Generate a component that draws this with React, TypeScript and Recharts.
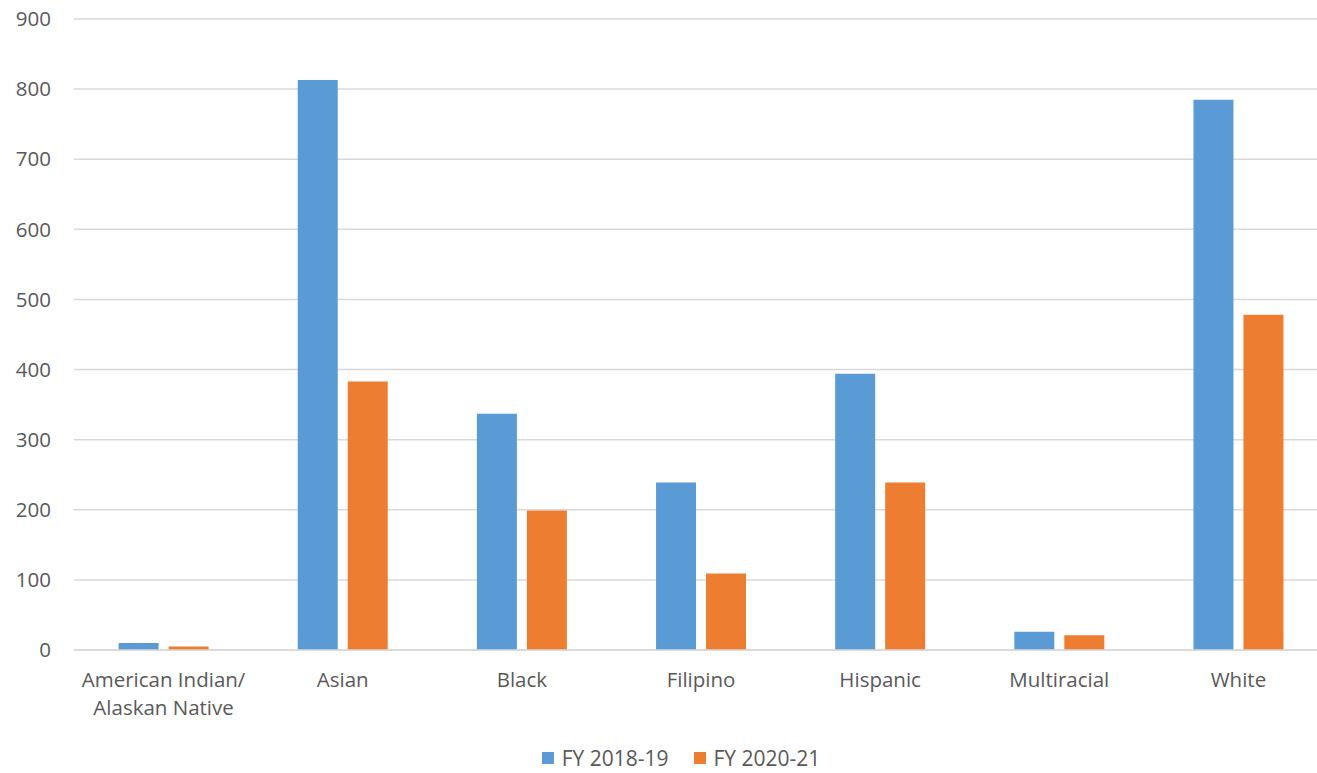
import React from 'react';
import { BarChart, Bar, XAxis, YAxis, CartesianGrid, Legend } from 'recharts';

const categories = ['American Indian/\nAlaskan Native', 'Asian', 'Black', 'Filipino', 'Hispanic', 'Multiracial', 'White'];
const fy1819 = [10, 813, 337, 239, 394, 26, 785];
const fy2021 = [5, 383, 199, 109, 239, 21, 478];
const yTicks = [0, 100, 200, 300, 400, 500, 600, 700, 800, 900];

const chartData = categories.map((name, i) => ({ name, a: fy1819[i], b: fy2021[i] }));

const FONT = 'Open Sans, Lato, sans-serif';
const TXT = '#595959';

const CatTick = (props: any) => {
  const { x, y, payload } = props;
  const lines = String(payload.value).split('\n');
  return (
    <text x={x} y={y + 29} textAnchor="middle" fill={TXT} fontSize={20.5} fontFamily={FONT}>
      {lines.map((l, i) => (
        <tspan key={i} x={x} dy={i === 0 ? 0 : 28}>{l}</tspan>
      ))}
    </text>
  );
};

const LegendBox = () => (
  <div style={{ display: 'flex', justifyContent: 'center', alignItems: 'center', fontFamily: FONT, fontSize: 21, lineHeight: '24px', height: 24, color: TXT }}>
    <span style={{ width: 12, height: 12, background: '#5B9BD5', display: 'inline-block', marginRight: 8 }} />
    <span style={{ marginRight: 25 }}>FY 2018-19</span>
    <span style={{ width: 12, height: 12, background: '#ED7D31', display: 'inline-block', marginRight: 8 }} />
    <span>FY 2020-21</span>
  </div>
);

export default function App() {
  return (
    <div style={{ position: 'absolute', left: 0, top: 0, width: 1317, height: 773, background: '#fff', overflow: 'hidden' }}>
      <BarChart width={1328} height={773} data={chartData} barGap={10} barCategoryGap="24.9%"
        margin={{ top: 19, right: 0, left: 0, bottom: 0 }}>
        <CartesianGrid vertical={false} stroke="#D9D9D9" strokeWidth={1.5} />
        <YAxis domain={[0, 900]} ticks={yTicks} width={74} axisLine={false} tickLine={false}
          tickSize={0} tickMargin={23} interval={0}
          tick={{ fill: TXT, fontSize: 20.5, fontFamily: FONT }} />
        <XAxis dataKey="name" height={99} interval={0} tickLine={false}
          axisLine={{ stroke: '#D9D9D9', strokeWidth: 1.5 }} tick={<CatTick />} />
        <Legend verticalAlign="bottom" content={<LegendBox />} wrapperStyle={{ left: 45, width: 1272, bottom: 3, height: 24 }} />
        <Bar dataKey="a" name="FY 2018-19" fill="#5B9BD5" isAnimationActive={false} />
        <Bar dataKey="b" name="FY 2020-21" fill="#ED7D31" isAnimationActive={false} />
      </BarChart>
    </div>
  );
}
